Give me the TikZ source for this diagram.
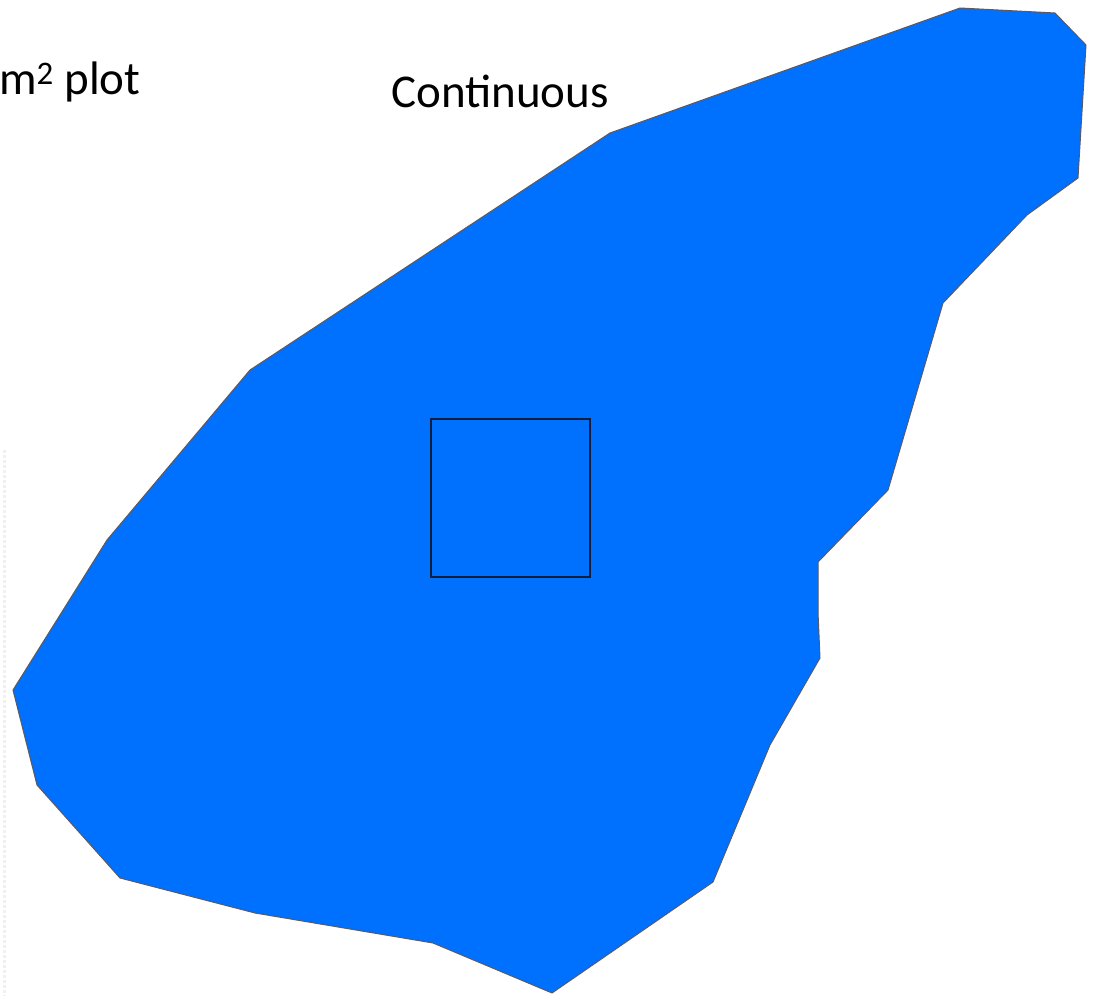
\documentclass[tikz,border=0pt]{standalone}
\usepackage{fontspec}
\setmainfont{Carlito}
\definecolor{areablue}{RGB}{0,112,255}
\definecolor{edgegray}{RGB}{90,90,100}
\definecolor{plotline}{RGB}{20,30,60}
\begin{document}
\begin{tikzpicture}[x=1pt,y=-1pt,
  label/.style={inner sep=0pt,font=\fontsize{47}{56}\selectfont,text=black},
  area/.style={fill=areablue,draw=edgegray,line width=1pt,line join=round},
  plotbox/.style={draw=plotline,line width=2pt}]
\useasboundingbox (0,0) rectangle (1096,996);
\fill[white] (0,0) rectangle (1096,996);
% faint dotted edge at the left
\draw[gray!12,dotted,line width=3pt] (4,450) -- (4,996);
% continuous area
\draw[area] (960,8) -- (1055,13) -- (1086,45) -- (1078,178) -- (1027,215)
  -- (943,303) -- (888,490) -- (818,562) -- (818,612) -- (820,658)
  -- (770,745) -- (713,882) -- (552,993) -- (433,943) -- (255,913)
  -- (120,878) -- (37,785) -- (13,690) -- (107,540) -- (250,370)
  -- (610,133) -- cycle;
% sample plot
\draw[plotbox] (430.5,418.5) rectangle (589.5,577);
% labels
\node[label,anchor=base west] (plotlabel) at (-1,94) {m\textsuperscript{2} plot};
\node[label,anchor=base east] (contlabel) at (609,107) {Continuous};
\end{tikzpicture}
\end{document}
